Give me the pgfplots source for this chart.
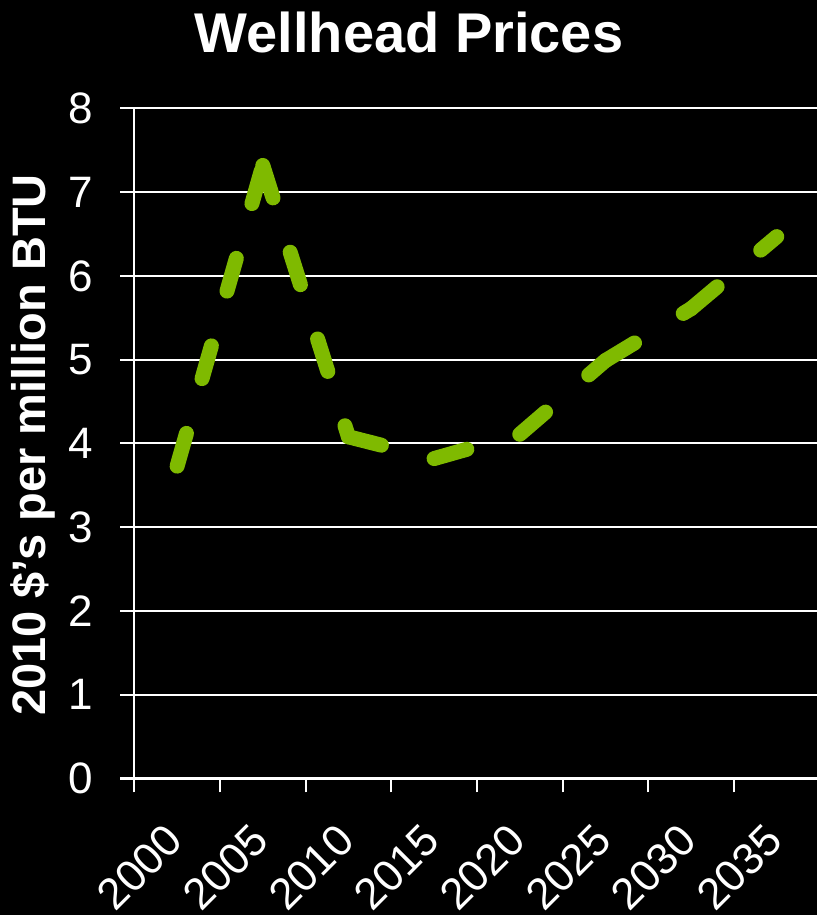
\documentclass[border=0pt]{standalone}
\usepackage{fontspec}
\setmainfont{Liberation Sans}
\usepackage{pgfplots}
\pgfplotsset{compat=1.18}
\definecolor{gasgreen}{RGB}{127,186,0}

\begin{document}
\begin{tikzpicture}
\fill[black] (0,0) rectangle (817bp,915bp);
\useasboundingbox (0,0) rectangle (817bp,915bp);
\begin{axis}[
  at={(134.3bp,136.5bp)}, anchor=south west,
  scale only axis, width=682.7bp, height=670bp,
  xmin=1999.5, xmax=2039.35, ymin=0, ymax=8,
  axis lines=left,
  axis line style={white, line width=2bp, -},
  xtick={1999.5,2004.5,...,2034.5},
  xticklabels={2000,2005,2010,2015,2020,2025,2030,2035},
  ytick={0,1,...,8},
  tick align=outside, major tick length=14bp,
  tick style={white, line width=2bp},
  ymajorgrids, grid style={white, line width=2bp},
  /pgf/number format/assume math mode=true,
  tick label style={font=\fontsize{44bp}{44bp}\selectfont, text=white, inner sep=0pt},
  yticklabel style={anchor=east, xshift=-27.6bp},
  xticklabel style={xshift=5.5bp, yshift=-75bp, anchor=center, rotate=45},
  title={Wellhead Prices},
  title style={font=\fontsize{56bp}{56bp}\selectfont\bfseries, text=white,
    at={(axis description cs:0.4024,1.0743)}, anchor=base},
  ylabel={2010 \$'s per million BTU},
  ylabel style={font=\fontsize{47bp}{47bp}\selectfont\bfseries, text=white,
    at={(axis description cs:-0.1491,0.4978)}, anchor=center},
  seg/.style={gasgreen, line width=15bp, line cap=round, line join=round,
    dash pattern=on 34bp off 57bp, mark=none},
]
% each five-year step is stroked on its own, so the dashes start afresh at every point
\addplot[seg] coordinates {(2002,3.73) (2007,7.32)};
\addplot[seg] coordinates {(2007,7.32) (2012,4.08)};
\addplot[seg] coordinates {(2012,4.08) (2017,3.82)};
\addplot[seg] coordinates {(2017,3.82) (2022,4.11)};
\addplot[seg] coordinates {(2022,4.11) (2027,4.99)};
\addplot[seg] coordinates {(2027,4.99) (2032,5.61)};
\addplot[seg] coordinates {(2032,5.61) (2037,6.47)};
\end{axis}
\end{tikzpicture}
\end{document}
